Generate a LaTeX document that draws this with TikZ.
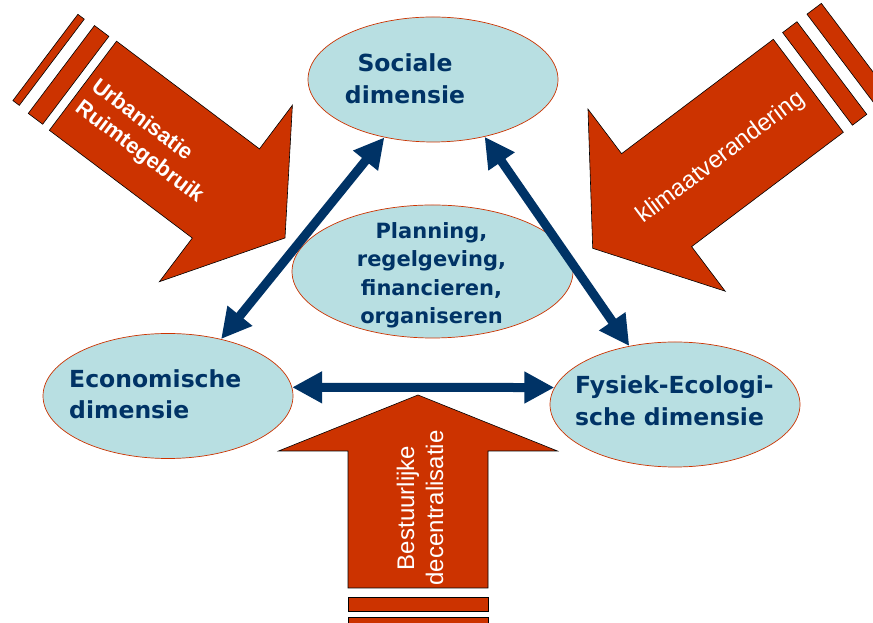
\documentclass[tikz,border=0pt]{standalone}
\usepackage{fontspec}
\newfontfamily\dimfont{DejaVu Sans}
\newfontfamily\arrowfont{Liberation Sans}
\usetikzlibrary{shapes.geometric,arrows.meta,positioning}

\definecolor{navy}{HTML}{003366}
\definecolor{brick}{HTML}{CC3300}
\definecolor{paleblue}{HTML}{B8DFE2}

\tikzset{
  dim/.style={ellipse, draw=brick, fill=paleblue, line width=0.7pt,
    minimum width=250pt, minimum height=125pt},
  dimtext/.style={text=navy, inner sep=0pt,
    font=\dimfont\bfseries\fontsize{23.5}{31.5}\selectfont},
  redshape/.style={fill=brick, draw=black, line width=0.6pt},
  redtext/.style={text=white, inner sep=0pt,
    font=\arrowfont\fontsize{24}{29}\selectfont},
  link/.style={draw=navy, line width=9pt,
    >={Triangle[length=30pt,width=30pt]}, <->},
}

% big arrow pointing along +x, tip at the origin
% #1 head length, #2 head half width, #3 shaft half width, #4 shaft end
\newcommand{\redarrow}[4]{%
  \filldraw[redshape] (0,0) -- (-#1,#2) -- (-#1,#3) -- (-#4,#3)
    -- (-#4,-#3) -- (-#1,-#3) -- (-#1,-#2) -- cycle;}
% stripe behind the arrow: from, to, half width
\newcommand{\redbar}[3]{%
  \filldraw[redshape] (-#1,-#3) rectangle (-#2,#3);}

\begin{document}
\begin{tikzpicture}[x=1pt, y=1pt]
\useasboundingbox (0,0) rectangle (873,623);
\fill[white] (0,0) rectangle (873,623);
\clip (0,0) rectangle (873,623);

% pressures from outside
\begin{scope}[shift={(285,385)}, rotate=-37]
  \redarrow{74}{110.5}{55.8}{253}
  \redbar{262}{280}{55}
  \redbar{292}{300}{54}
  \node[redtext, rotate=-37, align=left,
    font=\arrowfont\bfseries\fontsize{22}{27}\selectfont] (urban) at (-168,-6)
    {Urbanisatie\\Ruimtegebruik};
\end{scope}

\begin{scope}[shift={(592.7,374.7)}, rotate=217]
  \redarrow{80}{114}{58.2}{270}
  \redbar{281.5}{299.5}{58}
  \redbar{312}{330}{58}
  \node[redtext, rotate=37] (klimaat) at (-157,5) {klimaatverandering};
\end{scope}

\begin{scope}[shift={(418,228)}, rotate=90]
  \redarrow{56}{139.5}{70}{193}
  \redbar{202}{216}{70}
  \redbar{222}{240}{70}
  \node[redtext, rotate=90, align=center] (bestuur) at (-113,-2)
    {Bestuurlijke\\decentralisatie};
\end{scope}

% the dimensions
\node[dim] (soc) at (433,543.5) {};
\node[dim] (eco) at (168,227) {};
\node[dim] (fys) at (675,218.5) {};
\node[dim, minimum width=281pt, minimum height=133pt] (plan) at (432.5,351.5) {};

\node[dimtext, align=center] (soctext) at ([xshift=-28pt,yshift=1pt]soc.center)
  {Sociale\\dimensie};
\node[dimtext, align=left, anchor=west] (ecotext) at ([xshift=-99pt,yshift=2pt]eco.center)
  {Economische\\dimensie};
\node[dimtext, align=left, anchor=west] (fystext) at ([xshift=-100pt,yshift=4pt]fys.center)
  {Fysiek-Ecologi-\\sche dimensie};
\node[dimtext, align=center, font=\dimfont\bfseries\fontsize{21}{28.5}\selectfont]
  (plantext) at ([xshift=-1pt,yshift=-4pt]plan.center)
  {Planning,\\regelgeving,\\financieren,\\organiseren};

% interactions
\draw[link] (eco.47) -- (soc.230);
\draw[link] (soc.312) -- (fys.128);
\draw[link] (eco.4) -- (fys.172);
\end{tikzpicture}
\end{document}
